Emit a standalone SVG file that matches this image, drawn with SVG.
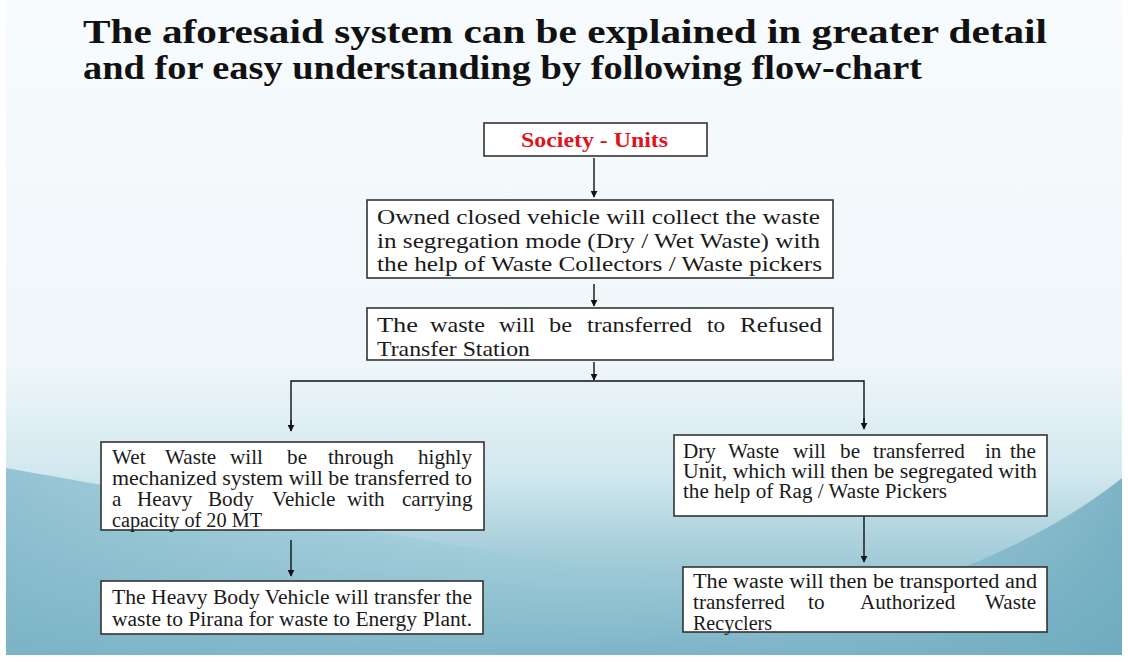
<svg xmlns="http://www.w3.org/2000/svg" width="1128" height="662" viewBox="0 0 1128 662">
<defs>
<linearGradient id="bg" x1="0" y1="0" x2="0" y2="1">
<stop offset="0" stop-color="#f7fbfd"/>
<stop offset="0.55" stop-color="#eff7fa"/>
<stop offset="0.72" stop-color="#d3e8ef"/>
<stop offset="0.88" stop-color="#98c6d4"/>
<stop offset="1" stop-color="#6eaabe"/>
</linearGradient>
<linearGradient id="sw1" x1="0" y1="0" x2="1" y2="0">
<stop offset="0" stop-color="#7fb7c9" stop-opacity="0.75"/>
<stop offset="0.5" stop-color="#9ccbd8" stop-opacity="0.35"/>
<stop offset="1" stop-color="#b5d8e2" stop-opacity="0"/>
</linearGradient>
<linearGradient id="sw2" x1="0" y1="0" x2="1" y2="0">
<stop offset="0" stop-color="#8cc0cf" stop-opacity="0"/>
<stop offset="1" stop-color="#6fabbf" stop-opacity="0.85"/>
</linearGradient>
<marker id="ah" viewBox="0 0 10 10" refX="9" refY="5" markerWidth="7" markerHeight="7" markerUnits="userSpaceOnUse" orient="auto">
<path d="M0,0 L10,5 L0,10 z" fill="#111"/>
</marker>
<style>
.box{fill:#fff;stroke:#333;stroke-width:1.6}
.t{font-family:"Liberation Serif","Times New Roman",serif;font-size:22px;fill:#1a1a1a}
.t2{font-family:"Liberation Serif","Times New Roman",serif;font-size:21px;fill:#1a1a1a}
.s{font-family:"Liberation Serif","Times New Roman",serif;font-size:20px;fill:#1a1a1a}
.title{font-family:"Liberation Serif","Times New Roman",serif;font-size:33px;font-weight:bold;fill:#111}
.red{font-family:"Liberation Serif","Times New Roman",serif;font-size:21px;font-weight:bold;fill:#e0141c}
.c{stroke:#111;stroke-width:1.4;fill:none}
</style>
</defs>
<rect x="0" y="0" width="1128" height="662" fill="#ffffff"/>
<g id="background">
<rect x="6" y="0" width="1116" height="655" fill="url(#bg)"/>
<path d="M6,468 C300,520 700,590 1122,640 L1122,655 L6,655 z" fill="url(#sw1)"/>
<path d="M620,655 C850,620 1020,560 1122,478 L1122,655 z" fill="url(#sw2)"/>
</g>
<g id="title">
<text class="title" x="83" y="43" textLength="964" lengthAdjust="spacingAndGlyphs">The aforesaid system can be explained in greater detail</text>
<text class="title" x="83" y="79" textLength="839" lengthAdjust="spacingAndGlyphs">and for easy understanding by following flow-chart</text>
</g>
<g id="connectors">
<line class="c" x1="594" y1="158" x2="594" y2="197" marker-end="url(#ah)"/>
<line class="c" x1="594" y1="284" x2="594" y2="306" marker-end="url(#ah)"/>
<line class="c" x1="594" y1="362" x2="594" y2="380" marker-end="url(#ah)"/>
<polyline class="c" points="291,430 291,381 864,381 864,428"/>
<line class="c" x1="291" y1="420" x2="291" y2="431" marker-end="url(#ah)"/>
<line class="c" x1="864" y1="418" x2="864" y2="429" marker-end="url(#ah)"/>
<line class="c" x1="291" y1="540" x2="291" y2="576" marker-end="url(#ah)"/>
<line class="c" x1="864" y1="516" x2="864" y2="562" marker-end="url(#ah)"/>
</g>
<g id="society-units">
<rect class="box" x="484" y="123" width="223" height="33"/>
<text class="red" x="521" y="147" textLength="147" lengthAdjust="spacingAndGlyphs">Society - Units</text>
</g>
<g id="collect">
<rect class="box" x="367" y="200" width="466" height="78"/>
<text class="t" x="377" y="224" textLength="443" lengthAdjust="spacingAndGlyphs">Owned closed vehicle will collect the waste</text>
<text class="t" x="377" y="248" textLength="443" lengthAdjust="spacingAndGlyphs">in segregation mode (Dry / Wet Waste) with</text>
<text class="t" x="377" y="271" textLength="445" lengthAdjust="spacingAndGlyphs">the help of Waste Collectors / Waste pickers</text>
</g>
<g id="transfer-station">
<rect class="box" x="367" y="308" width="466" height="52"/>
<text class="t2" x="377" y="332" textLength="41" lengthAdjust="spacingAndGlyphs">The</text>
<text class="t2" x="430" y="332" textLength="55" lengthAdjust="spacingAndGlyphs">waste</text>
<text class="t2" x="499" y="332" textLength="36" lengthAdjust="spacingAndGlyphs">will</text>
<text class="t2" x="549" y="332" textLength="23" lengthAdjust="spacingAndGlyphs">be</text>
<text class="t2" x="587" y="332" textLength="105" lengthAdjust="spacingAndGlyphs">transferred</text>
<text class="t2" x="707" y="332" textLength="18" lengthAdjust="spacingAndGlyphs">to</text>
<text class="t2" x="740" y="332" textLength="82" lengthAdjust="spacingAndGlyphs">Refused</text>
<text class="t2" x="377" y="356" textLength="153" lengthAdjust="spacingAndGlyphs">Transfer Station</text>
</g>
<g id="wet-waste">
<rect class="box" x="101" y="442" width="383" height="88"/>
<text class="s" y="464" transform="scale(1.06 1)"><tspan x="105.7">Wet</tspan><tspan x="155.7">Waste</tspan><tspan x="217">will</tspan><tspan x="270.8">be</tspan><tspan x="309.4">through</tspan><tspan x="394.3">highly</tspan></text>
<text class="s" x="112" y="485" textLength="360" lengthAdjust="spacingAndGlyphs">mechanized system will be transferred to</text>
<text class="s" y="506" transform="scale(1.06 1)"><tspan x="105.7">a</tspan><tspan x="129.2">Heavy</tspan><tspan x="196.2">Body</tspan><tspan x="256.6">Vehicle</tspan><tspan x="327.4">with</tspan><tspan x="379.2">carrying</tspan></text>
<text class="s" x="112" y="527" textLength="150" lengthAdjust="spacingAndGlyphs">capacity of 20 MT</text>
</g>
<g id="energy-plant">
<rect class="box" x="101" y="581" width="382" height="53"/>
<text class="s" x="112" y="604" textLength="360" lengthAdjust="spacingAndGlyphs">The Heavy Body Vehicle will transfer the</text>
<text class="s" x="112" y="626" textLength="360" lengthAdjust="spacingAndGlyphs">waste to Pirana for waste to Energy Plant.</text>
</g>
<g id="dry-waste">
<rect class="box" x="674" y="435" width="373" height="81"/>
<text class="s" y="458" transform="scale(1.06 1)"><tspan x="644.3">Dry</tspan><tspan x="686.8">Waste</tspan><tspan x="748.1">will</tspan><tspan x="792.5">be</tspan><tspan x="823.6">transferred</tspan><tspan x="929.2">in</tspan><tspan x="952.8">the</tspan></text>
<text class="s" x="683" y="478" textLength="354" lengthAdjust="spacingAndGlyphs">Unit, which will then be segregated with</text>
<text class="s" x="683" y="498" textLength="264" lengthAdjust="spacingAndGlyphs">the help of Rag / Waste Pickers</text>
</g>
<g id="recyclers">
<rect class="box" x="683" y="567" width="364" height="65"/>
<text class="s" x="693" y="588" textLength="344" lengthAdjust="spacingAndGlyphs">The waste will then be transported and</text>
<text class="s" y="609" transform="scale(1.06 1)"><tspan x="653.8">transferred</tspan><tspan x="762.3">to</tspan><tspan x="811.3">Authorized</tspan><tspan x="929.2">Waste</tspan></text>
<text class="s" x="693" y="630" textLength="79" lengthAdjust="spacingAndGlyphs">Recyclers</text>
</g>
</svg>
